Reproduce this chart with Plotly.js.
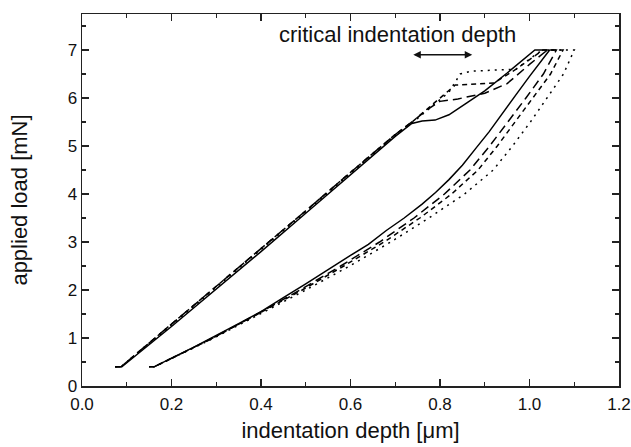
<!DOCTYPE html>
<html>
<head>
<meta charset="utf-8">
<script src="https://cdn.plot.ly/plotly-3.0.1.min.js"></script>
<style>html,body{margin:0;padding:0;background:#fff}#chart{width:631px;height:447px}</style>
</head>
<body>
<div id="chart"></div>
<script>
// solid curve (loading, hold, unloading)
const solidX = [0.074,0.089,0.2,0.3,0.4,0.5,0.6,0.7,0.737,0.76,0.789,0.82,0.86,0.9,0.95,1.0,1.012,1.045,1.02,1.0,0.97,0.94,0.91,0.88,0.85,0.82,0.79,0.76,0.72,0.68,0.64,0.6,0.55,0.5,0.45,0.4,0.35,0.3,0.25,0.2,0.161,0.15];
const solidY = [0.40,0.40,1.24,2.01,2.80,3.60,4.40,5.20,5.47,5.52,5.54,5.65,5.90,6.15,6.52,6.90,7.00,7.00,6.70,6.45,6.07,5.68,5.30,4.95,4.60,4.30,4.03,3.79,3.50,3.24,2.95,2.72,2.42,2.13,1.84,1.55,1.30,1.05,0.81,0.58,0.40,0.40];
// long dashed curve
const longX = [0.074,0.087,0.2,0.3,0.4,0.5,0.6,0.7,0.74,0.77,0.80,0.84,0.9,0.95,1.0,1.04,1.06,1.031,0.992,0.952,0.911,0.867,0.81,0.742,0.665,0.578,0.487,0.392,0.292,0.201,0.161,0.15];
const longY = [0.40,0.40,1.29,2.07,2.86,3.65,4.45,5.24,5.52,5.75,5.93,5.98,6.10,6.30,6.70,7.00,7.00,6.50,6.00,5.50,5.00,4.50,4.00,3.50,3.00,2.50,2.00,1.50,1.00,0.58,0.40,0.40];
// short dashed curve
const shortX = [0.074,0.087,0.2,0.3,0.4,0.5,0.6,0.7,0.74,0.834,0.92,0.97,1.03,1.075,1.047,1.008,0.969,0.928,0.885,0.826,0.755,0.675,0.585,0.492,0.393,0.293,0.201,0.161,0.15];
const shortY = [0.40,0.40,1.29,2.07,2.86,3.65,4.45,5.24,5.52,6.27,6.31,6.60,7.00,7.00,6.50,6.00,5.50,5.00,4.50,4.00,3.50,3.00,2.50,2.00,1.50,1.00,0.58,0.40,0.40];
// dotted curve
const dotX = [0.074,0.087,0.2,0.3,0.4,0.5,0.6,0.7,0.74,0.82,0.845,0.87,0.97,1.02,1.05,1.10,1.076,1.04,1.002,0.962,0.919,0.855,0.775,0.69,0.598,0.5,0.397,0.295,0.202,0.162,0.15];
const dotY = [0.40,0.40,1.27,2.05,2.84,3.63,4.43,5.22,5.50,6.12,6.50,6.56,6.60,6.95,7.00,7.00,6.50,6.00,5.50,5.00,4.50,4.00,3.50,3.00,2.50,2.00,1.50,1.00,0.58,0.40,0.40];

const xTickVals = [0,0.2,0.4,0.6,0.8,1.0,1.2];
const yTickVals = [0,1,2,3,4,5,6,7];
const annotationText = 'critical indentation depth';
const textX = 0.704, textY = 7.33;
const arrowFrom = 0.737, arrowTo = 0.872, arrowY = 6.9;

const lineW = 1.5;
const traces = [
  {x: solidX, y: solidY, mode: 'lines', line: {color: '#000', width: lineW}},
  {x: longX, y: longY, mode: 'lines', line: {color: '#000', width: lineW, dash: '9px,5px'}},
  {x: shortX, y: shortY, mode: 'lines', line: {color: '#000', width: lineW, dash: '5px,4px'}},
  {x: dotX, y: dotY, mode: 'lines', line: {color: '#000', width: lineW, dash: '2px,5px'}}
];

const fontFam = 'Liberation Sans, Arial, sans-serif';
const axisCommon = {
  showgrid: false, zeroline: false, showline: true, linecolor: '#222', linewidth: 1.5,
  mirror: 'allticks', ticks: 'inside', ticklen: 7, tickwidth: 1.5, tickcolor: '#222',
  tickfont: {family: fontFam, size: 17, color: '#111'}
};

const layout = {
  width: 631, height: 447,
  margin: {l: 82, r: 12, t: 14, b: 61},
  paper_bgcolor: '#fff', plot_bgcolor: '#fff',
  showlegend: false,
  font: {family: fontFam, color: '#111'},
  xaxis: Object.assign({}, axisCommon, {
    range: [0, 1.2], tickvals: xTickVals, tickformat: '.1f', ticklabelstandoff: 2,
    minor: {dtick: 0.1, tick0: 0, ticks: 'inside', ticklen: 4, tickwidth: 1.2, tickcolor: '#222'},
    title: {text: 'indentation depth [μm]', font: {size: 22}, standoff: 9}
  }),
  yaxis: Object.assign({}, axisCommon, {
    range: [0, 7.75], tickvals: yTickVals,
    minor: {dtick: 0.5, tick0: 0, ticks: 'inside', ticklen: 4, tickwidth: 1.2, tickcolor: '#222'},
    title: {text: 'applied load [mN]', font: {size: 22}, standoff: 34}
  }),
  annotations: [
    {x: textX, y: textY, xref: 'x', yref: 'y', text: annotationText,
     showarrow: false, font: {size: 22, color: '#111'}},
    {x: arrowTo, y: arrowY, ax: arrowFrom, ay: arrowY, axref: 'x', ayref: 'y', xref: 'x', yref: 'y',
     text: '', showarrow: true, arrowhead: 2, arrowside: 'end+start', arrowsize: 1, arrowwidth: 1.5, arrowcolor: '#111'}
  ]
};

Plotly.newPlot('chart', traces, layout, {displayModeBar: false, staticPlot: true});
</script>
</body>
</html>
